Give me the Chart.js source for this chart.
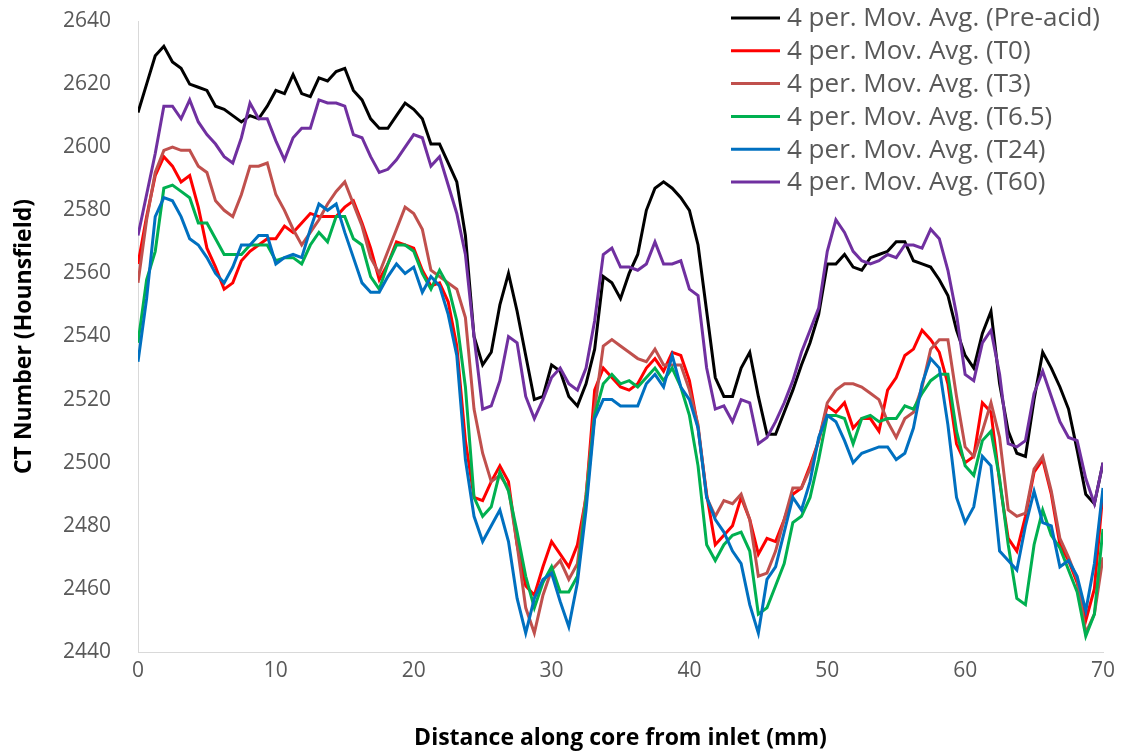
<!DOCTYPE html>
<html>
<head>
<meta charset="utf-8">
<title>CT number along core</title>
<script src="https://cdn.jsdelivr.net/npm/chart.js@4.4.1/dist/chart.umd.min.js"></script>
<style>
  html, body { margin: 0; padding: 0; background: #fff; }
  #wrap { width: 1133px; height: 752px; position: relative; }
</style>
</head>
<body>
<div id="wrap"><canvas id="ct-chart"></canvas></div>
<script>
// positions along the core (mm), one per slice
const distanceMm = [
  0, 0.625, 1.25, 1.875, 2.5, 3.125, 3.75, 4.375,
  5, 5.625, 6.25, 6.875, 7.5, 8.125, 8.75, 9.375,
  10, 10.625, 11.25, 11.875, 12.5, 13.125, 13.75, 14.375,
  15, 15.625, 16.25, 16.875, 17.5, 18.125, 18.75, 19.375,
  20, 20.625, 21.25, 21.875, 22.5, 23.125, 23.75, 24.375,
  25, 25.625, 26.25, 26.875, 27.5, 28.125, 28.75, 29.375,
  30, 30.625, 31.25, 31.875, 32.5, 33.125, 33.75, 34.375,
  35, 35.625, 36.25, 36.875, 37.5, 38.125, 38.75, 39.375,
  40, 40.625, 41.25, 41.875, 42.5, 43.125, 43.75, 44.375,
  45, 45.625, 46.25, 46.875, 47.5, 48.125, 48.75, 49.375,
  50, 50.625, 51.25, 51.875, 52.5, 53.125, 53.75, 54.375,
  55, 55.625, 56.25, 56.875, 57.5, 58.125, 58.75, 59.375,
  60, 60.625, 61.25, 61.875, 62.5, 63.125, 63.75, 64.375,
  65, 65.625, 66.25, 66.875, 67.5, 68.125, 68.75, 69.375,
  70
];

const preAcid = [
  2611, 2620, 2629, 2632, 2627, 2625, 2620, 2619, 2618, 2613,
  2612, 2610, 2608, 2610, 2609, 2613, 2618, 2617, 2623, 2617,
  2616, 2622, 2621, 2624, 2625, 2618, 2615, 2609, 2606, 2606,
  2610, 2614, 2612, 2609, 2601, 2601, 2595, 2589, 2572, 2540,
  2531, 2535, 2550, 2560, 2548, 2534, 2520, 2521, 2531, 2529,
  2521, 2518, 2525, 2536, 2559, 2557, 2552, 2560, 2566, 2580,
  2587, 2589, 2587, 2584, 2580, 2569, 2548, 2527, 2521, 2521,
  2530, 2535, 2521, 2509, 2509, 2516, 2523, 2531, 2538, 2547,
  2563, 2563, 2566, 2562, 2561, 2565, 2566, 2567, 2570, 2570,
  2564, 2563, 2562, 2558, 2553, 2542, 2534, 2530, 2541, 2548,
  2525, 2510, 2503, 2502, 2520, 2535, 2530, 2524, 2517, 2504,
  2490, 2487, 2500
];

const t0 = [
  2563, 2578, 2591, 2597, 2594, 2589, 2591, 2581, 2568, 2562,
  2555, 2557, 2564, 2567, 2569, 2571, 2571, 2575, 2573, 2576,
  2579, 2578, 2578, 2578, 2581, 2583, 2576, 2568, 2558, 2563,
  2570, 2569, 2568, 2561, 2556, 2557, 2551, 2537, 2507, 2489,
  2488, 2494, 2499, 2494, 2474, 2461, 2458, 2467, 2475, 2471,
  2467, 2474, 2489, 2523, 2530, 2527, 2524, 2523, 2525, 2530,
  2533, 2529, 2535, 2534, 2526, 2511, 2490, 2474, 2477, 2480,
  2489, 2482, 2471, 2476, 2475, 2482, 2490, 2492, 2499, 2507,
  2518, 2516, 2519, 2511, 2514, 2514, 2510, 2523, 2527, 2534,
  2536, 2542, 2539, 2535, 2525, 2506, 2500, 2502, 2519, 2516,
  2494, 2476, 2472, 2483, 2497, 2501, 2490, 2474, 2469, 2462,
  2450, 2460, 2491
];

const t3 = [
  2557, 2577, 2592, 2599, 2600, 2599, 2599, 2594, 2592, 2583,
  2580, 2578, 2585, 2594, 2594, 2595, 2585, 2580, 2574, 2569,
  2573, 2577, 2582, 2586, 2589, 2582, 2575, 2565, 2560, 2567,
  2574, 2581, 2579, 2574, 2561, 2559, 2557, 2555, 2546, 2517,
  2503, 2494, 2496, 2492, 2474, 2454, 2446, 2458, 2466, 2469,
  2463, 2468, 2490, 2517, 2537, 2539, 2537, 2535, 2533, 2532,
  2536, 2531, 2531, 2531, 2523, 2512, 2489, 2483, 2488, 2487,
  2490, 2482, 2464, 2465, 2472, 2482, 2492, 2492, 2498, 2507,
  2519, 2523, 2525, 2525, 2524, 2522, 2520, 2513, 2508, 2514,
  2516, 2524, 2536, 2539, 2539, 2521, 2505, 2502, 2510, 2519,
  2508, 2485, 2483, 2484, 2498, 2502, 2491, 2476, 2470, 2463,
  2446, 2452, 2470
];

const t6_5 = [
  2538, 2558, 2567, 2587, 2588, 2586, 2584, 2576, 2576, 2571,
  2566, 2566, 2566, 2569, 2569, 2569, 2564, 2565, 2565, 2563,
  2569, 2573, 2570, 2578, 2578, 2571, 2569, 2559, 2555, 2563,
  2569, 2569, 2567, 2560, 2555, 2561, 2556, 2545, 2524, 2489,
  2483, 2486, 2497, 2491, 2478, 2464, 2454, 2462, 2467, 2459,
  2459, 2464, 2488, 2515, 2525, 2528, 2525, 2526, 2524, 2527,
  2530, 2526, 2530, 2524, 2515, 2499, 2474, 2469, 2474, 2477,
  2478, 2472, 2452, 2454, 2461, 2468, 2481, 2483, 2489, 2501,
  2515, 2515, 2514, 2506, 2514, 2515, 2513, 2514, 2514, 2518,
  2517, 2522, 2526, 2528, 2528, 2510, 2499, 2496, 2507, 2510,
  2495, 2474, 2457, 2455, 2474, 2485, 2477, 2473, 2466, 2459,
  2445, 2452, 2479
];

const t24 = [
  2532, 2552, 2578, 2584, 2583, 2578, 2571, 2569, 2565, 2560,
  2557, 2562, 2569, 2569, 2572, 2572, 2563, 2565, 2566, 2565,
  2574, 2582, 2580, 2582, 2573, 2565, 2557, 2554, 2554, 2559,
  2563, 2560, 2562, 2554, 2559, 2556, 2547, 2534, 2501, 2483,
  2475, 2480, 2485, 2475, 2457, 2446, 2457, 2463, 2465, 2456,
  2448, 2462, 2485, 2514, 2520, 2520, 2518, 2518, 2518, 2525,
  2528, 2524, 2534, 2524, 2520, 2511, 2489, 2482, 2478, 2472,
  2468, 2455, 2446, 2463, 2467, 2478, 2489, 2485, 2494, 2508,
  2515, 2513, 2507, 2500, 2503, 2504, 2505, 2505, 2501, 2503,
  2511, 2525, 2533, 2530, 2512, 2489, 2481, 2486, 2502, 2499,
  2472, 2469, 2466, 2480, 2491, 2481, 2480, 2467, 2469, 2464,
  2453, 2468, 2492
];

const t60 = [
  2572, 2585, 2598, 2613, 2613, 2609, 2615, 2608, 2604, 2601,
  2597, 2595, 2603, 2614, 2609, 2609, 2602, 2596, 2603, 2606,
  2606, 2615, 2614, 2614, 2613, 2604, 2603, 2597, 2592, 2593,
  2596, 2600, 2604, 2603, 2594, 2597, 2588, 2579, 2566, 2540,
  2517, 2518, 2526, 2540, 2538, 2521, 2514, 2520, 2527, 2530,
  2525, 2523, 2530, 2545, 2566, 2568, 2562, 2562, 2561, 2563,
  2570, 2563, 2563, 2564, 2555, 2553, 2530, 2517, 2518, 2513,
  2520, 2519, 2506, 2508, 2513, 2519, 2526, 2535, 2542, 2549,
  2567, 2577, 2573, 2567, 2564, 2563, 2564, 2566, 2565, 2569,
  2569, 2568, 2574, 2571, 2561, 2547, 2528, 2526, 2538, 2542,
  2528, 2506, 2505, 2507, 2522, 2529, 2521, 2513, 2508, 2507,
  2495, 2487, 2500
];

const seriesLabels = [
  '4 per. Mov. Avg. (Pre-acid)',
  '4 per. Mov. Avg. (T0)',
  '4 per. Mov. Avg. (T3)',
  '4 per. Mov. Avg. (T6.5)',
  '4 per. Mov. Avg. (T24)',
  '4 per. Mov. Avg. (T60)'
];
const seriesValues = [preAcid, t0, t3, t6_5, t24, t60];
const seriesColors = ['#000000', '#FF0000', '#C0504D', '#00B050', '#0070C0', '#7030A0'];

const xTicks = [0, 10, 20, 30, 40, 50, 60, 70];
const yTicks = [2440, 2460, 2480, 2500, 2520, 2540, 2560, 2580, 2600, 2620, 2640];

const TICK_FONT = { family: '"Open Sans", sans-serif', size: 21 };
const TITLE_FONT = { family: '"Open Sans", sans-serif', size: 23, weight: 'bold' };

// legend in the top right corner, drawn over the plot like Excel does
const cornerLegend = {
    id: 'cornerLegend',
    afterDraw(chart) {
        const ctx = chart.ctx;
        ctx.save();
        ctx.font = '26px "Open Sans", sans-serif';
        ctx.textBaseline = 'middle';
        ctx.fillStyle = '#595959';
        chart.data.datasets.forEach((ds, i) => {
            const y = 18 + i * 32.8;
            ctx.strokeStyle = ds.borderColor;
            ctx.lineWidth = 3;
            ctx.beginPath();
            ctx.moveTo(731, y);
            ctx.lineTo(780, y);
            ctx.stroke();
            ctx.fillText(ds.label, 787, y + 1);
        });
        ctx.restore();
    }
};

const datasets = seriesValues.map((values, i) => ({
    label: seriesLabels[i],
    data: values.map((v, k) => ({ x: distanceMm[k], y: v })),
    borderColor: seriesColors[i],
    backgroundColor: seriesColors[i],
    borderWidth: 3,
    pointRadius: 0,
    tension: 0,
    fill: false,
    order: seriesValues.length - 1 - i
}));

new Chart(document.getElementById('ct-chart'), {
    type: 'line',
    data: { datasets: datasets },
    options: {
        responsive: true,
        maintainAspectRatio: false,
        animation: false,
        layout: { padding: { top: 21, right: 30, bottom: 0, left: 0 } },
        plugins: {
            legend: { display: false },
            tooltip: { enabled: false }
        },
        scales: {
            x: {
                type: 'linear',
                min: 0,
                max: 70,
                afterBuildTicks: scale => { scale.ticks = xTicks.map(v => ({ value: v })); },
                afterFit: scale => {
                    scale.height = 100;
                    scale.paddingLeft = 0;
                    scale.paddingRight = 0;
                },
                grid: { display: false, drawTicks: false },
                border: { display: true, color: '#D9D9D9', width: 1 },
                ticks: { color: '#595959', font: TICK_FONT, padding: 6, maxRotation: 0,
                         callback: v => String(v) },
                title: {
                    display: true,
                    text: 'Distance along core from inlet (mm)',
                    color: '#000000',
                    font: TITLE_FONT,
                    padding: { top: 0, bottom: 0 }
                }
            },
            y: {
                min: 2440,
                max: 2640,
                afterBuildTicks: scale => { scale.ticks = yTicks.map(v => ({ value: v })); },
                afterFit: scale => {
                    scale.width = 138;
                    scale.paddingTop = 0;
                    scale.paddingBottom = 0;
                },
                grid: { display: false, drawTicks: false },
                border: { display: true, color: '#D9D9D9', width: 1 },
                ticks: { color: '#595959', font: TICK_FONT, padding: 27,
                         callback: v => String(v) },
                title: {
                    display: true,
                    text: 'CT Number (Hounsfield)',
                    color: '#000000',
                    font: TITLE_FONT,
                    padding: { top: 11, bottom: 0 }
                }
            }
        }
    },
    plugins: [cornerLegend]
});
</script>
</body>
</html>
